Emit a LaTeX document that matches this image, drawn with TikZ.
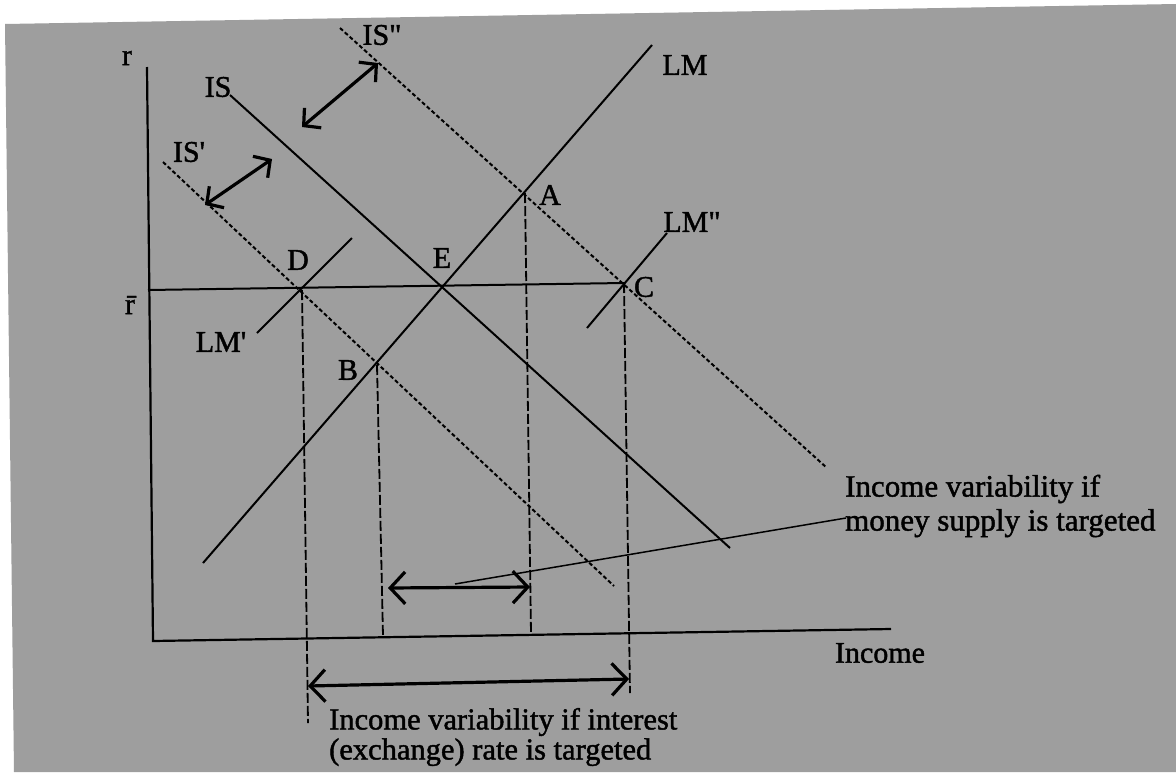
\documentclass[tikz,border=0pt]{standalone}
\usepackage{fontspec}
\setmainfont{Liberation Serif}
\newfontfamily\heavy[FakeBold=1.4]{Liberation Serif}
\usetikzlibrary{arrows.meta}
\definecolor{bgray}{gray}{0.62}
\tikzset{
 lbl/.style={inner sep=0pt, font=\heavy\fontsize{30}{34}\selectfont},
 note/.style={inner sep=0pt, align=left, font=\heavy\fontsize{31}{34}\selectfont},
 curve/.style={line width=2pt},
 shifted/.style={line width=2pt, dash pattern=on 4pt off 2.5pt},
 drop/.style={line width=1.8pt, dash pattern=on 10pt off 3pt},
 axis/.style={line width=2.2pt},
 dblarrow/.style={line width=3.2pt, {Straight Barb[length=15pt,width=32pt]}-{Straight Barb[length=15pt,width=32pt]}},
 shiftarrow/.style={line width=3.2pt, {Straight Barb[length=12pt,width=26pt]}-{Straight Barb[length=12pt,width=26pt]}},
 pointer/.style={line width=1.5pt},
}
\begin{document}
\begin{tikzpicture}[x=1pt,y=-1pt]
\useasboundingbox (0,0) rectangle (1176,772);
\fill[white] (0,0) rectangle (1176,772);
\fill[bgray] (5,24) -- (1176,4) -- (1176,772) -- (14,772) -- cycle;

% key points
\coordinate (O) at (153,641);
\coordinate (ytop) at (147,67);
\coordinate (xend) at (891,629);
\coordinate (rbarL) at (148,290);
\coordinate (D) at (302,290);
\coordinate (E) at (444,286);
\coordinate (C) at (624,283);
\coordinate (A) at (525,193);
\coordinate (B) at (377,365);
\coordinate (LM1) at (203,563);  \coordinate (LM2) at (652,45);
\coordinate (LMa1) at (257,333); \coordinate (LMa2) at (352,238);
\coordinate (LMb1) at (587,328); \coordinate (LMb2) at (667,233);
\coordinate (IS1) at (230,95);   \coordinate (IS2) at (730,548);
\coordinate (ISa1) at (163,162); \coordinate (ISa2) at (614,586);
\coordinate (ISb1) at (340,28);  \coordinate (ISb2) at (827,468);
\coordinate (Dd) at (308,723);
\coordinate (Bd) at (383,636);
\coordinate (Ad) at (531,634);
\coordinate (Cd) at (630,693);
\coordinate (iL) at (308,686); \coordinate (iR) at (629,679);
\coordinate (mL) at (388,588); \coordinate (mR) at (530,587);
\coordinate (s1a) at (302,127); \coordinate (s1b) at (378,63);
\coordinate (s2a) at (205,205); \coordinate (s2b) at (272,159);
\coordinate (ptrS) at (846,518); \coordinate (ptrE) at (455,584);

% axes
\draw[axis] (ytop) -- (O) -- (xend);
% r-bar line
\draw[curve] (rbarL) -- (C);
% LM curves
\draw[curve] (LM1) -- (LM2);
\draw[curve] (LMa1) -- (LMa2);
\draw[curve] (LMb1) -- (LMb2);
% IS curves
\draw[curve] (IS1) -- (IS2);
\draw[shifted] (ISa1) -- (ISa2);
\draw[shifted] (ISb1) -- (ISb2);
% drop lines
\draw[drop] (D) -- (Dd);
\draw[drop] (B) -- (Bd);
\draw[drop] (A) -- (Ad);
\draw[drop] (C) -- (Cd);
% arrows
\draw[dblarrow] (iL) -- (iR);
\draw[dblarrow] (mL) -- (mR);
\draw[shiftarrow] (s1a) -- (s1b);
\draw[shiftarrow] (s2a) -- (s2b);
\draw[pointer] (ptrS) -- (ptrE);

% labels
\node[lbl] (lr) at (127,58) {r};
\node[lbl] (lrbar) at (130,305) {\=r};
\node[lbl] (lIS) at (218,87) {IS};
\node[lbl] (lISa) at (189,152) {IS'};
\node[lbl] (lISb) at (382,35) {IS"};
\node[lbl] (lLM) at (685,65) {LM};
\node[lbl] (lLMa) at (221,342) {LM'};
\node[lbl] (lLMb) at (692,222) {LM"};
\node[lbl] (lA) at (550,195) {A};
\node[lbl] (lB) at (348,370) {B};
\node[lbl] (lC) at (644,287) {C};
\node[lbl] (lD) at (298,260) {D};
\node[lbl] (lE) at (442,258) {E};
\node[lbl] (lInc) at (880,653) {Income};
\node[note, anchor=west] (money) at (845,506) {Income variability if\\money supply is targeted};
\node[note, anchor=west, font=\heavy\fontsize{30.5}{30}\selectfont] (interest) at (329,737) {Income variability if interest\\(exchange) rate is targeted};
\end{tikzpicture}
\end{document}
